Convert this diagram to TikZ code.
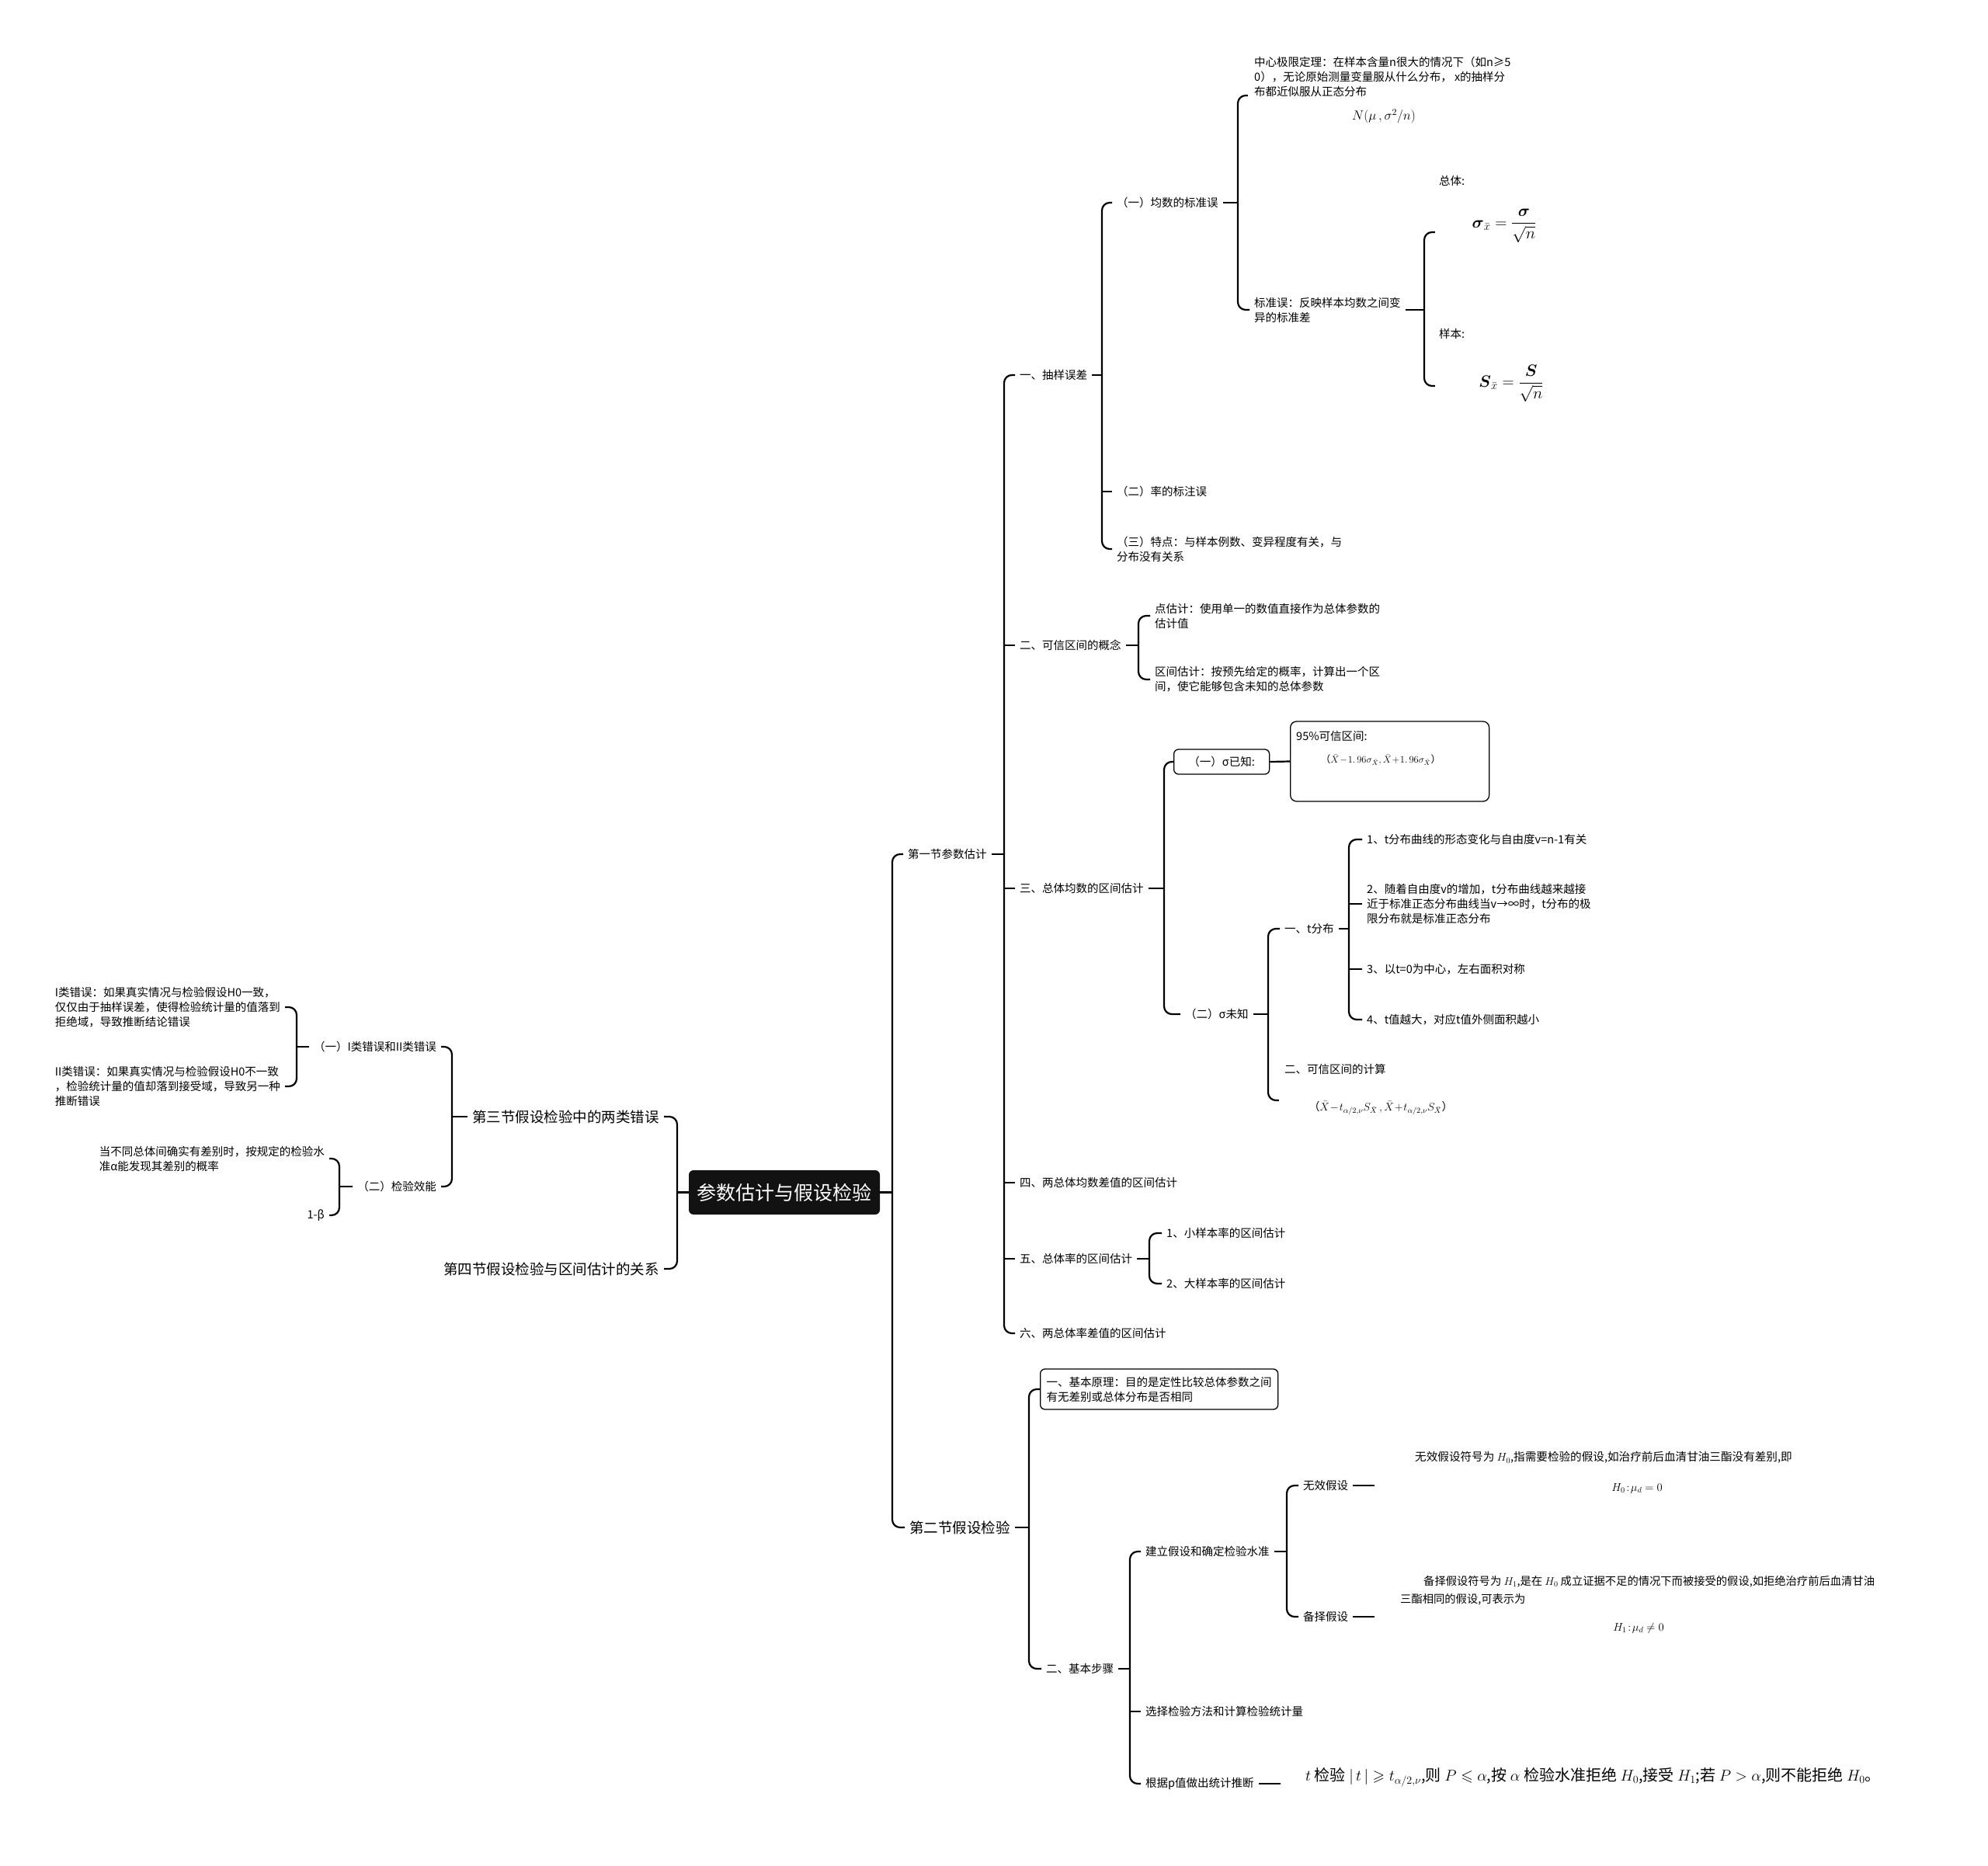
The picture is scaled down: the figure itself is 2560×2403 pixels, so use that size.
\documentclass[tikz,border=0pt]{standalone}
\usepackage{fix-cm}
\usepackage{amsmath,amssymb}
\usepackage{fontspec}
\setmainfont{Noto Sans CJK SC}
\usetikzlibrary{calc}
\newcommand{\fsA}{\fontsize{14.5}{19}\selectfont}
\newcommand{\fsB}{\fontsize{18.5}{22}\selectfont}
\newcommand{\fsR}{\fontsize{25}{30}\selectfont}
\newcommand{\fsP}{\fontsize{14.6}{17}\selectfont}
\newcommand{\fsF}{\fontsize{21}{25}\selectfont}
\tikzset{
  conn/.style={line width=2.2pt},
  tn/.style={font=\fsA, inner xsep=6pt, inner ysep=2pt, align=left, text=black},
  tb/.style={font=\fsB, inner xsep=6pt, inner ysep=2pt, text=black},
  pt/.style={inner sep=0pt, minimum size=0pt},
  rbox/.style={draw, line width=1.3pt, rounded corners=6pt},
}
\newcommand{\myR}[4]{%
  \draw[conn] (#1.east) -- (#1.east -| #2);
  \draw[conn, rounded corners=10pt] (#3.west) -- (#3.west -| #2) -- (#4.west -| #2) -- (#4.west);}
\newcommand{\myM}[2]{\draw[conn] (#2.west -| #1) -- (#2.west);}
\newcommand{\myL}[4]{%
  \draw[conn] (#1.west) -- (#1.west -| #2);
  \draw[conn, rounded corners=10pt] (#3.east) -- (#3.east -| #2) -- (#4.east -| #2) -- (#4.east);}
\begin{document}
\begin{tikzpicture}[x=1pt, y=-1pt]
\useasboundingbox (0,0) rectangle (2560,2403);
\fill[white] (0,0) rectangle (2560,2403);

% root
\node[fill=black!93, rounded corners=6pt, minimum width=246pt, minimum height=57pt, text=white, font=\fsR, inner sep=0pt] (root) at (1010,1535.5) {参数估计与假设检验};

% level 1
\node[tn, anchor=west] (s1) at (1163,1100) {第一节参数估计};
\node[tb, anchor=west] (s2) at (1165,1967) {第二节假设检验};
\node[tb, anchor=east] (s3) at (855,1438) {第三节假设检验中的两类错误};
\node[tb, anchor=east] (s4) at (855,1634) {第四节假设检验与区间估计的关系};
\coordinate (B0) at (1149,0);
\coordinate (BL) at (872,0);
\myR{root}{B0}{s1}{s2}
\myL{root}{BL}{s3}{s4}

% ---------- left side ----------
\coordinate (B3) at (582,0);
\node[tn, anchor=east] (c31) at (568,1348) {（一）I类错误和II类错误};
\node[tn, anchor=east] (c32) at (568,1528) {（二）检验效能};
\myL{s3}{B3}{c31}{c32}
\coordinate (B31) at (382,0);
\node[tn, anchor=east] (c311) at (367,1297) {I类错误：如果真实情况与检验假设H0一致，\\仅仅由于抽样误差，使得检验统计量的值落到\\拒绝域，导致推断结论错误};
\node[tn, anchor=east] (c312) at (367,1399) {II类错误：如果真实情况与检验假设H0不一致\\，检验统计量的值却落到接受域，导致另一种\\推断错误};
\myL{c31}{B31}{c311}{c312}
\coordinate (B32) at (437,0);
\node[tn, anchor=east] (c321) at (424,1492) {当不同总体间确实有差别时，按规定的检验水\\准α能发现其差别的概率};
\node[tn, anchor=east] (c322) at (424,1565) {1-β};
\myL{c32}{B32}{c321}{c322}

% ---------- 第一节 ----------
\coordinate (B1) at (1293,0);
\node[tn, anchor=west] (c11) at (1307,483) {一、抽样误差};
\node[tn, anchor=west] (c12) at (1307,831) {二、可信区间的概念};
\node[tn, anchor=west] (c13) at (1307,1144) {三、总体均数的区间估计};
\node[tn, anchor=west] (c14) at (1307,1523) {四、两总体均数差值的区间估计};
\node[tn, anchor=west] (c15) at (1307,1621) {五、总体率的区间估计};
\node[tn, anchor=west] (c16) at (1307,1717) {六、两总体率差值的区间估计};
\myR{s1}{B1}{c11}{c16}
\myM{B1}{c12}\myM{B1}{c13}\myM{B1}{c14}\myM{B1}{c15}

% 一、抽样误差
\coordinate (B11) at (1419,0);
\node[tn, anchor=west] (c111) at (1432,261) {（一）均数的标准误};
\node[tn, anchor=west] (c112) at (1432,633) {（二）率的标注误};
\node[tn, anchor=west] (c113) at (1432,707) {（三）特点：与样本例数、变异程度有关，与\\分布没有关系};
\myR{c11}{B11}{c111}{c113}
\myM{B11}{c112}

\coordinate (B111) at (1594,0);
\node[pt] (p1111) at (1607,123) {};
\node[tn, anchor=west] (t1111) at (1609,99) {中心极限定理：在样本含量n很大的情况下（如n≥5\\0），无论原始测量变量服从什么分布， x的抽样分\\布都近似服从正态分布};
\node (f1111) at (1782,150) {\fontsize{17}{20}\selectfont$N(\mu\,,\sigma^2/n)$};
\node[tn, anchor=west] (c1112) at (1609,399) {标准误：反映样本均数之间变\\异的标准差};
\myR{c111}{B111}{p1111}{c1112}

\coordinate (B1112) at (1834,0);
\node[pt] (pzt) at (1848,299) {};
\node[pt] (pyb) at (1848,497) {};
\myR{c1112}{B1112}{pzt}{pyb}
\node[tn, anchor=west, inner xsep=2pt] (lzt) at (1851,233) {总体:};
\node[font=\fsF] (fzt) at (1937,291) {$\boldsymbol{\sigma}_{\bar x}=\dfrac{\boldsymbol{\sigma}}{\sqrt{n}}$};
\node[tn, anchor=west, inner xsep=2pt] (lyb) at (1851,430) {样本:};
\node[font=\fsF] (fyb) at (1946,494) {$\boldsymbol{S}_{\bar x}=\dfrac{\boldsymbol{S}}{\sqrt{n}}$};

% 二、可信区间的概念
\coordinate (B12) at (1466,0);
\node[tn, anchor=west] (c121) at (1481,793) {点估计：使用单一的数值直接作为总体参数的\\估计值};
\node[tn, anchor=west] (c122) at (1481,875) {区间估计：按预先给定的概率，计算出一个区\\间，使它能够包含未知的总体参数};
\myR{c12}{B12}{c121}{c122}

% 三、总体均数的区间估计
\coordinate (B13) at (1499,0);
\node[tn, rbox, anchor=west, minimum width=123pt, minimum height=32pt] (c131) at (1511,981) {（一）σ已知:};
\node[tn, anchor=west] (c132) at (1520,1306) {（二）σ未知};
\myR{c13}{B13}{c131}{c132}
\node[rbox, rounded corners=8pt, minimum width=256pt, minimum height=103pt, anchor=west, inner sep=0pt] (c1311) at (1661,980.5) {};
\draw[conn] (c131.east) -- (c1311.west);
\node[tn, anchor=west, inner xsep=0pt] (t1311) at (1669,948) {95\%可信区间:};
\node[font=\fontsize{12.5}{15}\selectfont] (f1311) at (1778,979) {（$\bar X\!-\!1.\,96\sigma_{\bar X},\bar X\!+\!1.\,96\sigma_{\bar X}$）};

\coordinate (B132) at (1633,0);
\node[tn, anchor=west] (c1321) at (1648,1196) {一、t分布};
\node[pt] (p1322) at (1647,1417) {};
\myR{c132}{B132}{c1321}{p1322}
\node[tn, anchor=west] (t1322) at (1648,1377) {二、可信区间的计算};
\node[font=\fontsize{14.2}{17}\selectfont] (f1322) at (1778,1427) {（$\bar X\!-\!t_{\alpha/2,\nu}S_{\bar X}\,,\bar X\!+\!t_{\alpha/2,\nu}S_{\bar X}$）};

\coordinate (B1321) at (1737,0);
\node[tn, anchor=west] (c13211) at (1754,1081) {1、t分布曲线的形态变化与自由度v=n-1有关};
\node[tn, anchor=west] (c13212) at (1754,1164) {2、随着自由度v的增加，t分布曲线越来越接\\近于标准正态分布曲线当v→∞时，t分布的极\\限分布就是标准正态分布};
\node[tn, anchor=west] (c13213) at (1754,1248) {3、以t=0为中心，左右面积对称};
\node[tn, anchor=west] (c13214) at (1754,1313) {4、t值越大，对应t值外侧面积越小};
\myR{c1321}{B1321}{c13211}{c13214}
\myM{B1321}{c13212}\myM{B1321}{c13213}

% 五
\coordinate (B15) at (1480,0);
\node[tn, anchor=west] (c151) at (1496,1588) {1、小样本率的区间估计};
\node[tn, anchor=west] (c152) at (1496,1653) {2、大样本率的区间估计};
\myR{c15}{B15}{c151}{c152}

% ---------- 第二节 ----------
\coordinate (B2) at (1325,0);
\node[tn, rbox, anchor=west, inner xsep=8pt, minimum height=52pt] (c21) at (1339,1789) {一、基本原理：目的是定性比较总体参数之间\\有无差别或总体分布是否相同};
\node[tn, anchor=west] (c22) at (1341,2149) {二、基本步骤};
\myR{s2}{B2}{c21}{c22}

\coordinate (B22) at (1455,0);
\node[tn, anchor=west] (c221) at (1469,1998) {建立假设和确定检验水准};
\node[tn, anchor=west] (c222) at (1469,2204) {选择检验方法和计算检验统计量};
\node[tn, anchor=west] (c223) at (1469,2297) {根据p值做出统计推断};
\myR{c22}{B22}{c221}{c223}
\myM{B22}{c222}

\coordinate (B221) at (1657,0);
\node[tn, anchor=west] (c2211) at (1672,1913) {无效假设};
\node[tn, anchor=west] (c2212) at (1672,2082) {备择假设};
\myR{c221}{B221}{c2211}{c2212}

\node[pt] (p22111) at (1770,1913) {};
\draw[conn] (c2211.east) -- (p22111);
\node[anchor=west, inner sep=0pt, font=\fsP] (t22111) at (1822,1877) {无效假设符号为 $H_0$,指需要检验的假设,如治疗前后血清甘油三酯没有差别,即};
\node[font=\fsP] (f22111) at (2108,1917) {$H_0\!:\!\mu_d=0$};

\node[pt] (p22121) at (1770,2082) {};
\draw[conn] (c2212.east) -- (p22121);
\node[anchor=west, inner sep=0pt, font=\fontsize{14.3}{17}\selectfont] (t22121a) at (1833,2037) {备择假设符号为 $H_1$,是在 $H_0$ 成立证据不足的情况下而被接受的假设,如拒绝治疗前后血清甘油};
\node[anchor=west, inner sep=0pt, font=\fontsize{14.3}{17}\selectfont] (t22121b) at (1803,2060) {三酯相同的假设,可表示为};
\node[font=\fsP] (f22121) at (2110,2097) {$H_1\!:\!\mu_d\neq0$};

\node[pt] (p2231) at (1649,2297) {};
\draw[conn] (c223.east) -- (p2231);
\node[anchor=west, inner sep=0pt, font=\fontsize{20}{23}\selectfont] (f2231) at (1681,2289) {$t$ 检验 $|\,t\,|\geqslant t_{\alpha/2,\nu}$,则 $P\leqslant\alpha$,按 $\alpha$ 检验水准拒绝 $H_0$,接受 $H_1$;若 $P>\alpha$,则不能拒绝 $H_0$。};

\end{tikzpicture}
\end{document}
